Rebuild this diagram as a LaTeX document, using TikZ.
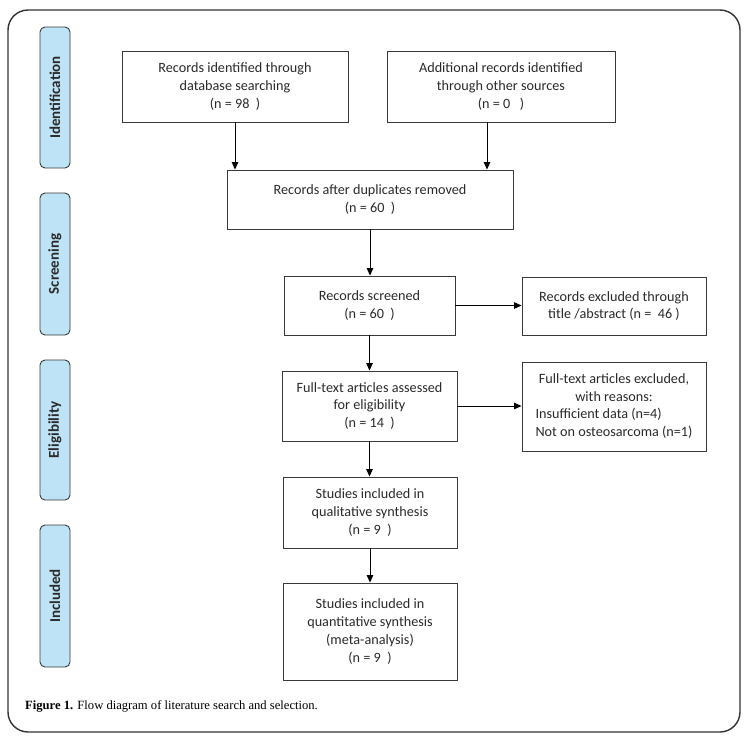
\documentclass[tikz,border=0pt]{standalone}
\usepackage{fontspec}
\setmainfont{Carlito}
\newfontfamily\capfont{Liberation Serif}
\usetikzlibrary{arrows.meta}
\definecolor{framec}{HTML}{333333}
\definecolor{boxc}{HTML}{3A3A3A}
\definecolor{txtc}{HTML}{2A2A2A}
\definecolor{phasefill}{HTML}{BEE3F6}
\tikzset{
  x=1pt,y=-1pt,
  flowbox/.style={draw=boxc,line width=0.9pt,rectangle,align=center,inner sep=2pt,
    text=txtc,font=\fontsize{14.2}{17.7}\selectfont},
  phase/.style={draw=boxc,line width=0.9pt,fill=phasefill,rounded corners=5pt,
    minimum height=30pt,rotate=90,text=txtc,font=\fontsize{15}{16}\selectfont\bfseries,inner sep=0pt},
  arr/.style={line width=1pt,-{Triangle[length=7.5pt,width=6.5pt]}},
}
\begin{document}
\begin{tikzpicture}
\useasboundingbox (0,0) rectangle (748,742);
\draw[framec,line width=1.4pt,rounded corners=20pt] (8,10) rectangle (740,732);

% phase labels
\node[phase,minimum width=141pt] (pid) at (55,97.5) {Identification};
\node[phase,minimum width=142pt] (psc) at (55,264) {Screening};
\node[phase,minimum width=140pt] (pel) at (55,430) {Eligibility};
\node[phase,minimum width=142pt] (pin) at (55,596) {Included};

% boxes
\node[flowbox,minimum width=226pt,minimum height=71pt] (b1) at (235,86.5)
  {Records identified through\\database searching\\(n = 98\ \ )};
\node[flowbox,minimum width=228pt,minimum height=71pt] (b2) at (501,86.5)
  {Additional records identified\\through other sources\\(n = 0\ \ \ )};
\node[flowbox,minimum width=286pt,minimum height=59pt] (b3) at (370,199.5)
  {Records after duplicates removed\\(n = 60\ \ )};
\node[flowbox,minimum width=171pt,minimum height=59pt] (b4) at (369.5,305.5)
  {Records screened\\(n = 60\ \ )};
\node[flowbox,minimum width=184pt,minimum height=58pt] (b5) at (614,306)
  {Records excluded through\\title /abstract (n =\ \ 46 )};
\node[flowbox,minimum width=175pt,minimum height=70pt] (b6) at (369.5,406)
  {Full-text articles assessed\\for eligibility\\(n = 14\ \ )};
\node[flowbox,minimum width=184pt,minimum height=89pt] (b7) at (614,406.5)
  {\renewcommand{\arraystretch}{1}\setlength{\tabcolsep}{0pt}%
   \begin{tabular}{l}\multicolumn{1}{c}{Full-text articles excluded,}\\\multicolumn{1}{c}{with reasons:}\\Insufficient data (n=4)\\Not on osteosarcoma (n=1)\end{tabular}};
\node[flowbox,minimum width=174pt,minimum height=71pt] (b8) at (370,512.5)
  {Studies included in\\qualitative synthesis\\(n = 9\ \ )};
\node[flowbox,minimum width=174pt,minimum height=97pt] (b9) at (370,631.5)
  {Studies included in\\quantitative synthesis\\(meta-analysis)\\(n = 9\ \ )};

% arrows
\draw[arr] (b1.south) -- (b1.south |- b3.north);
\draw[arr] (b2.south -| 487,0) -- (487,0 |- b3.north);
\draw[arr] (b3.south) -- (b3.south |- b4.north);
\draw[arr] (b4.east) -- (b4.east -| b5.west);
\draw[arr] (b4.south) -- (b4.south |- b6.north);
\draw[arr] (b6.east) -- (b6.east -| b7.west);
\draw[arr] (b6.south) -- (b6.south |- b8.north);
\draw[arr] (b8.south) -- (b8.south |- b9.north);

% caption
\node[anchor=base west,inner sep=0pt,font=\capfont\fontsize{12.6}{14}\selectfont] (cap) at (25,709)
  {\textbf{Figure 1.} Flow diagram of literature search and selection.};
\end{tikzpicture}
\end{document}
